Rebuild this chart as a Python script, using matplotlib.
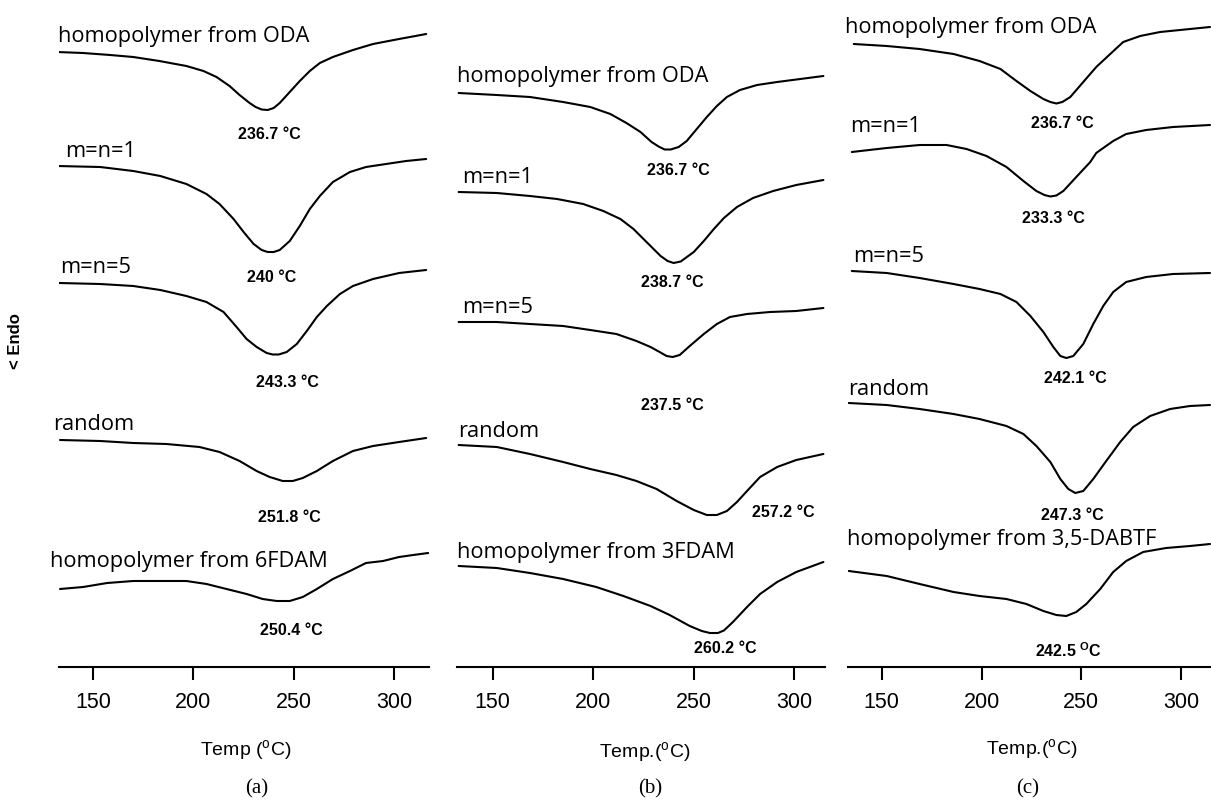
"""DSC traces of the copolyimide series, three panels (a) (b) (c).

Signal is in arbitrary units (endotherm down), temperature in degC.
"""

import matplotlib

matplotlib.use("Agg")
import matplotlib.pyplot as plt

plt.rcParams["mathtext.fontset"] = "custom"
plt.rcParams["mathtext.rm"] = "Liberation Sans"
plt.rcParams["mathtext.bf"] = "Liberation Sans:bold"

# ---------------------------------------------------------------- data
# panel (a)
a_oda_t = [132, 145, 158.5, 170, 183, 196.5, 205, 211.5, 218, 223, 228, 231, 234, 237, 240,
           243, 248, 253, 258, 263, 269.5, 279.5, 289.5, 302.5, 316]
a_oda_y = [615, 614, 612, 610, 606, 601, 596, 590, 581, 572, 564, 560, 557.5, 557, 559,
           564, 575, 586, 596, 604, 610, 617, 623, 628, 633]
a_m1_t = [132, 153.5, 170, 183.5, 196.5, 206.5, 213, 220, 225, 230, 234, 237, 240, 243,
          248, 253, 258, 263, 269.5, 278, 286, 296, 306, 316]
a_m1_y = [501, 500, 496, 491, 483, 473, 463, 448, 435, 423, 417, 415, 415, 417,
          426, 441, 458, 471, 485, 495, 500, 503, 506, 508]
a_m5_t = [133, 153.5, 170, 183.5, 196.5, 206.5, 215, 221.5, 226.5, 231.5, 236.5, 239.5, 242.5,
          246.5, 251.5, 256.5, 261.5, 266.5, 273, 279.5, 289.5, 302.5, 316]
a_m5_y = [384, 383, 381, 377, 371, 365, 355, 340, 328, 320, 314, 312.5, 312.5,
          315, 323, 336, 350, 361, 373, 381, 388, 394, 397]
a_rand_t = [133.5, 153.5, 170, 186.5, 203, 213, 223, 231.5, 238, 244.5, 249.5, 254.5,
            261.5, 269.5, 279.5, 289.5, 302.5, 316]
a_rand_y = [227, 226, 224, 223, 220, 215, 206, 196, 190, 186, 186, 189,
            196, 206, 216, 221, 225, 229]
a_6f_t = [133.5, 145, 157, 170, 183.5, 196.5, 206.5, 216.5, 226.5, 234.5, 241.5, 248,
          254.5, 261.5, 269.5, 278, 286, 294.5, 302.5, 309.5, 317]
a_6f_y = [78, 80, 84, 86, 86, 86, 83, 78, 73, 68, 66, 66,
          70, 78, 88, 96, 104, 106, 110, 112, 114]

# panel (b)
b_oda_t = [133, 152, 168.5, 185, 198.5, 208.5, 216.5, 223.5, 229, 232.5, 235.5, 238.5, 242.5,
           246.5, 251.5, 256.5, 261.5, 266.5, 273, 281.5, 291.5, 303, 314.5]
b_oda_y = [574, 572, 570, 565, 560, 553, 544, 535, 525, 520.5, 517.5, 517.5, 520,
           526, 538, 550, 561, 570, 577, 582, 585, 588, 591]
b_m1_t = [133, 152, 168.5, 182, 195, 205, 213.5, 220, 226.5, 233.5, 237, 240, 243.5,
          250, 255, 260, 265, 271.5, 279.5, 289.5, 301, 314.5]
b_m1_y = [475, 474, 471, 468, 463, 456, 448, 438, 425, 411, 406, 404, 405.5,
          415, 426, 438, 449, 460, 469, 476, 482, 487]
b_m5_t = [133, 152, 168.5, 185, 198.5, 211.5, 221.5, 228.5, 233, 236.5, 239.5, 243, 248,
          255, 261.5, 268, 276.5, 288, 301, 314.5]
b_m5_y = [345, 345, 343, 341, 337, 333, 326, 320, 315, 311, 310, 312, 321,
          333, 343, 350, 353, 355, 356, 359]
b_rand_t = [133, 152, 168.5, 185, 198.5, 211.5, 221.5, 231.5, 241.5, 250, 256.5, 261.5,
            266.5, 271.5, 276.5, 283, 291.5, 301, 314.5]
b_rand_y = [222, 220, 213, 205, 198, 192, 186, 178, 166, 157, 152, 152,
            156, 165, 176, 190, 200, 207, 213]
b_3f_t = [133, 152, 168.5, 185, 201.5, 215, 228.5, 238, 248, 254, 258, 262, 265,
          269.5, 276.5, 283, 291.5, 301, 314.5]
b_3f_y = [101, 99, 94, 88, 80, 71, 61, 52, 41, 36, 34, 34, 36.5,
          45, 60, 73, 85, 95, 105]

# panel (c)
c_oda_t = [136, 152.5, 169, 186, 199, 209.5, 217.5, 224.5, 231, 234.5, 237.5, 240.5, 244.5,
           251, 257.5, 264.5, 271, 279.5, 289.5, 299.5, 314.5]
c_oda_y = [623, 621, 618, 613, 606, 598, 586, 576, 568, 565, 563.5, 565, 570,
           585, 600, 613, 625, 631, 635, 637, 640]
c_m1_t = [135, 152.5, 169, 182.5, 192.5, 202.5, 212.5, 221, 227.5, 231.5, 234.5, 237.5, 241,
          247.5, 254.5, 257.5, 261, 266, 272.5, 282.5, 296, 314.5]
c_m1_y = [515, 519, 522, 522, 518, 511, 500, 486, 476, 472, 470.5, 471.5, 476,
          490, 505, 514, 519, 526, 533, 537, 540, 542]
c_m5_t = [135, 152.5, 169, 186, 199, 209.5, 217.5, 224.5, 231, 236, 239.5, 242.5,
          246, 251, 256, 261, 266, 272.5, 282.5, 296, 314.5]
c_m5_y = [396, 394, 389, 383, 378, 373, 365, 351, 335, 320, 311, 309,
          311, 323, 343, 361, 375, 385, 390, 393, 394]
c_rand_t = [133.5, 152.5, 169, 186, 199, 212.5, 221, 227.5, 234.5, 239.5, 243.5, 247,
            251, 256, 262.5, 269.5, 276, 284.5, 294.5, 304.5, 314.5]
c_rand_y = [264, 262, 258, 253, 248, 241, 233, 221, 205, 188, 178, 174,
            176, 188, 206, 225, 240, 251, 258, 261, 262]
c_dab_t = [133.5, 152.5, 169, 186, 199, 212.5, 222.5, 231, 237.5, 242.5, 247.5, 252.5,
           259.5, 266, 272.5, 281, 292.5, 304.5, 314.5]
c_dab_y = [96, 91, 83, 75, 71, 68, 63, 56, 52, 51, 55, 63,
           78, 95, 106, 115, 119, 121, 123]

names_a = ["homopolymer from ODA", "m=n=1", "m=n=5", "random", "homopolymer from 6FDAM"]
names_b = ["homopolymer from ODA", "m=n=1", "m=n=5", "random", "homopolymer from 3FDAM"]
names_c = ["homopolymer from ODA", "m=n=1", "m=n=5", "random", "homopolymer from 3,5-DABTF"]
peaks_a = ["236.7", "240", "243.3", "251.8", "250.4"]
peaks_b = ["236.7", "238.7", "237.5", "257.2", "260.2"]
peaks_c = ["236.7", "233.3", "242.1", "247.3", "242.5"]

xticks = [150, 200, 250, 300]
xlabels = ["Temp ($^{\\mathrm{o}}$C)", "Temp.($^{\\mathrm{o}}$C)", "Temp.($^{\\mathrm{o}}$C)"]
panel_tags = ["(a)", "(b)", "(c)"]

# ---------------------------------------------------------------- layout
W, H = 1211, 803
BASE = 668  # pixel row of the temperature axis
PANEL_PX = [(59, 429), (457, 825), (848, 1211)]
XLIMS = [(133.0, 317.4), (132.2, 315.3), (133.1, 315.0)]
# name anchors (left T, baseline) and peak label anchors (centre T, baseline)
NAME_POS = [
    [(132.6, 626), (136, 511), (133.6, 395), (130, 238), (128.6, 101)],
    [(132.1, 586), (134.6, 485), (134.6, 355), (132.9, 231), (132.1, 110)],
    [(131.6, 635), (134.1, 536), (135.8, 406), (133.3, 273), (132.5, 123)],
]
PEAK_POS = [
    [(238, 529), (239, 386), (247, 281), (248, 146), (249, 33)],
    [(242.4, 493), (239.1, 381), (239.2, 258), (294.4, 151), (265.6, 15)],
    [(240.5, 540), (236, 445), (246.8, 285), (245.5, 148), (243.5, 11)],
]
XLABEL_PX = [(246, 751), (645, 753), (1032, 750)]
TAG_PX = [(257, 789), (650, 789), (1028, 789)]

curves = [
    [(a_oda_t, a_oda_y), (a_m1_t, a_m1_y), (a_m5_t, a_m5_y), (a_rand_t, a_rand_y), (a_6f_t, a_6f_y)],
    [(b_oda_t, b_oda_y), (b_m1_t, b_m1_y), (b_m5_t, b_m5_y), (b_rand_t, b_rand_y), (b_3f_t, b_3f_y)],
    [(c_oda_t, c_oda_y), (c_m1_t, c_m1_y), (c_m5_t, c_m5_y), (c_rand_t, c_rand_y), (c_dab_t, c_dab_y)],
]
names = [names_a, names_b, names_c]
peaks = [peaks_a, peaks_b, peaks_c]

fig = plt.figure(figsize=(W / 100, H / 100), dpi=100)

for i in range(3):
    l, r = PANEL_PX[i]
    ax = fig.add_axes([l / W, (H - BASE) / H, (r - l) / W, BASE / H])
    ax.set_xlim(*XLIMS[i])
    ax.set_ylim(0, BASE)
    for t, y in curves[i]:
        ax.plot(t, y, color="black", lw=1.5, solid_capstyle="round",
                solid_joinstyle="round")

    for name, (tx, ty) in zip(names[i], NAME_POS[i]):
        ax.text(tx, ty, name, ha="left", va="baseline", fontsize=15.7,
                family="Open Sans", clip_on=False)
    for j, (pk, (tx, ty)) in enumerate(zip(peaks[i], PEAK_POS[i])):
        if i == 2 and j == 4:
            label = pk + " $^{\\mathbf{O}}$C"
        else:
            label = pk + " \u00b0C"
        ax.text(tx, ty, label, ha="center", va="baseline", fontsize=11.5,
                fontweight="bold", family="Liberation Sans")

    for side in ("left", "right", "top"):
        ax.spines[side].set_visible(False)
    ax.spines["bottom"].set_linewidth(1.5)
    ax.set_yticks([])
    ax.set_xticks(xticks)
    ax.tick_params(axis="x", direction="out", length=9, width=1.5, pad=8,
                   labelsize=15.5)
    for lab in ax.get_xticklabels():
        lab.set_family("Liberation Sans")
    ax.patch.set_alpha(0)

    fig.text(XLABEL_PX[i][0] / W, 1 - XLABEL_PX[i][1] / H, xlabels[i],
             ha="center", va="center", fontsize=14, family="Liberation Sans")
    fig.text(TAG_PX[i][0] / W, 1 - TAG_PX[i][1] / H, panel_tags[i],
             ha="center", va="center", fontsize=15, family="Liberation Serif")

fig.text(16 / W, 1 - 341 / H, "< Endo", rotation=90, ha="center", va="center",
         fontsize=12, fontweight="bold", family="Liberation Sans")

fig.savefig("out.png", dpi=100, facecolor="white")
